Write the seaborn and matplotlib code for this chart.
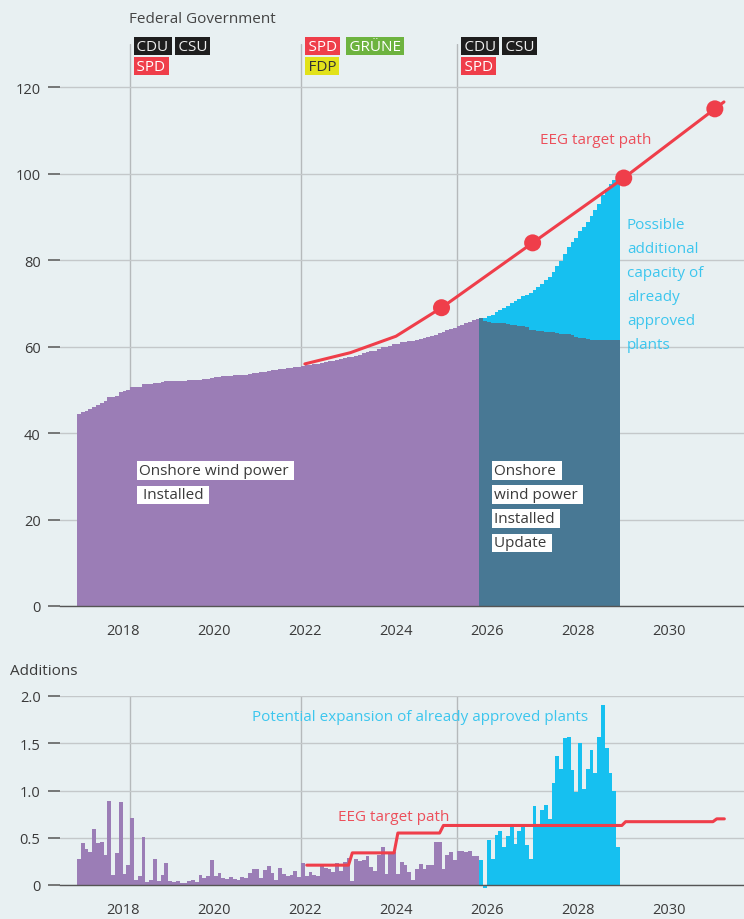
import numpy as np
import pandas as pd
import seaborn as sns
import matplotlib.pyplot as plt

# colours
BG = '#e8f0f2'
PURPLE = '#9b7db6'
DARK = '#487894'
CYAN = '#16c0f0'
RED = '#ef3e4a'
GRID = '#c4c8ca'
TXT = '#3a3a3a'

# monthly additions of onshore wind power in GW (installed), Jan 2017 - Oct 2025
add_2017 = [0.28, 0.44, 0.38, 0.35, 0.59, 0.44, 0.45, 0.32, 0.89, 0.11, 0.34, 0.88]
add_2018 = [0.12, 0.21, 0.71, 0.05, 0.10, 0.51, 0.03, 0.05, 0.28, 0.04, 0.11, 0.23]
add_2019 = [0.04, 0.03, 0.04, 0.02, 0.02, 0.04, 0.05, 0.03, 0.11, 0.07, 0.10, 0.26]
add_2020 = [0.10, 0.13, 0.07, 0.06, 0.08, 0.06, 0.05, 0.08, 0.07, 0.13, 0.17, 0.17]
add_2021 = [0.07, 0.16, 0.20, 0.13, 0.05, 0.18, 0.12, 0.09, 0.11, 0.15, 0.08, 0.23]
add_2022 = [0.09, 0.14, 0.11, 0.09, 0.22, 0.18, 0.17, 0.14, 0.23, 0.15, 0.24, 0.29]
add_2023 = [0.04, 0.27, 0.25, 0.26, 0.31, 0.19, 0.15, 0.32, 0.40, 0.12, 0.33, 0.35]
add_2024 = [0.12, 0.24, 0.21, 0.14, 0.05, 0.17, 0.22, 0.17, 0.21, 0.21, 0.46, 0.45]
add_2025 = [0.17, 0.32, 0.35, 0.26, 0.36, 0.36, 0.35, 0.36, 0.31, 0.31]

# potential expansion of already approved plants, Nov 2025 - Nov 2028
approved = [0.26, -0.03,
            0.48, 0.28, 0.53, 0.57, 0.40, 0.52, 0.61, 0.43, 0.57, 0.61, 0.42, 0.28,
            0.84, 0.63, 0.79, 0.85, 0.70, 1.08, 1.36, 1.23, 1.56, 1.57, 1.22, 0.98,
            1.50, 1.02, 1.23, 1.43, 1.18, 1.57, 1.91, 1.45, 1.18, 0.99, 0.40]

# installed capacity at the end of 2016 (GW)
start_capacity = 44.1

# installed fleet update incl. decommissioning, Nov 2025 - Nov 2028 (GW)
update = [66.6, 66.0, 65.8, 65.5, 65.5, 65.4, 65.4, 65.2, 65.1, 64.9, 64.8, 64.7,
          64.6, 63.9, 63.8, 63.6, 63.5, 63.4, 63.3, 63.3, 63.1, 63.0, 62.9, 62.9,
          62.7, 62.2, 62.1, 61.9, 61.7, 61.6, 61.6, 61.5, 61.5, 61.5, 61.5, 61.5, 61.5]

# EEG target path, cumulative (GW)
eeg_years = [2022.0, 2023.0, 2024.0, 2025.0, 2027.0, 2029.0, 2031.0, 2031.2]
eeg_gw = [56.0, 58.6, 62.4, 69.0, 84.0, 99.0, 115.0, 116.6]
eeg_dot_years = [2025.0, 2027.0, 2029.0, 2031.0]
eeg_dot_gw = [69.0, 84.0, 99.0, 115.0]

# EEG target path, monthly additions per year (GW/month); 2031 only Jan-Mar
target_years = [2022, 2023, 2024, 2025, 2026, 2027, 2028, 2029, 2030, 2031]
target_monthly = [0.21, 0.34, 0.55, 0.63, 0.63, 0.63, 0.63, 0.67, 0.67, 0.70]
target_months_last = 3

# change of federal government
gov_dates = [2018.16, 2021.92, 2025.34]
gov_parties = [[['CDU', 'CSU'], ['SPD']],
               [['SPD', 'GRÜNE'], ['FDP']],
               [['CDU', 'CSU'], ['SPD']]]
party_colors = {'CDU': ('#1e1e1e', '#eeeeee'), 'CSU': ('#1e1e1e', '#eeeeee'),
                'SPD': (RED, '#ffffff'), 'GRÜNE': ('#6db33f', '#ffffff'),
                'FDP': ('#e2e21a', '#333333')}

# derived series
installed = np.concatenate([add_2017, add_2018, add_2019, add_2020, add_2021,
                            add_2022, add_2023, add_2024, add_2025])
all_add = np.concatenate([installed, approved])
capacity = start_capacity + np.cumsum(all_add)
n_inst = len(installed)
edges = 2017 + np.arange(len(all_add) + 1) / 12

target = np.concatenate([np.repeat(target_monthly[:-1], 12),
                         np.repeat(target_monthly[-1:], target_months_last)])
target_df = pd.DataFrame({'x': target_years[0] + (np.arange(len(target)) + 0.5) / 12,
                          'gw': target})
eeg_df = pd.DataFrame({'x': eeg_years, 'gw': eeg_gw})
dots_df = pd.DataFrame({'x': eeg_dot_years, 'gw': eeg_dot_gw})

sns.set_style('whitegrid', {'axes.facecolor': BG, 'figure.facecolor': BG,
                            'grid.color': GRID})
plt.rcParams['font.family'] = ['Open Sans', 'DejaVu Sans']

W, H = 744, 920
fig = plt.figure(figsize=(W / 100, H / 100), dpi=100)
ax = fig.add_axes([60 / W, 1 - 607 / H, 684 / W, (607 - 45) / H])
ax2 = fig.add_axes([60 / W, 1 - 886 / H, 684 / W, (886 - 697) / H])

XLIM = (2016.625, 2031.64)

for a in (ax, ax2):
    a.set_xlim(*XLIM)
    a.grid(axis='x', visible=False)
    a.grid(axis='y', color=GRID, lw=1)
    for s in ('top', 'left', 'right'):
        a.spines[s].set_visible(False)
    a.spines['bottom'].set_color('#555555')
    a.spines['bottom'].set_linewidth(1)
    a.set_xticks(range(2018, 2031, 2))
    a.tick_params(axis='x', direction='out', length=8, width=1.2, color='#666666',
                  labelsize=10.5, labelcolor=TXT, pad=4)
    a.tick_params(axis='y', direction='out', length=9, width=1.1, color='#555555',
                  labelsize=10.5, labelcolor=TXT, pad=5, left=True)
    for g in gov_dates:
        a.axvline(g, color='#b5b9bb', lw=1, zorder=0.5)
    a.set_axisbelow(True)

# top chart: capacity
ax.set_ylim(0, 130)
ax.set_yticks(range(0, 121, 20))
ax.stairs(capacity[:n_inst], edges[:n_inst + 1], baseline=0, fill=True,
          color=PURPLE, lw=0, zorder=2)
ax.stairs(update, edges[n_inst:], baseline=0, fill=True, color=DARK, lw=0, zorder=2)
ax.stairs(capacity[n_inst:], edges[n_inst:], baseline=update, fill=True,
          color=CYAN, lw=0, zorder=2)
sns.lineplot(data=eeg_df, x='x', y='gw', ax=ax, color=RED, lw=2.2, zorder=4)
sns.scatterplot(data=dots_df, x='x', y='gw', ax=ax, color=RED, s=150,
                edgecolor='none', zorder=5)
ax.set_xlabel('')
ax.set_ylabel('')

# federal government badges
ax.annotate('Federal Government', xy=(gov_dates[0], 1.0445),
            xycoords=('data', 'axes fraction'), xytext=(-1, 0),
            textcoords='offset points', ha='left', va='center',
            fontsize=11, color='#444444')
for g, rows in zip(gov_dates, gov_parties):
    for r, row in enumerate(rows):
        yfrac = 0.9964 - r * 0.0356
        for i, p in enumerate(row):
            fc, tc = party_colors[p]
            ax.annotate('\u200a' + p + '\u200a', xy=(g, yfrac),
                        xycoords=('data', 'axes fraction'),
                        xytext=(4.0 + i * 29.6, 0), textcoords='offset points',
                        ha='left', va='center', fontsize=11, color=tc,
                        bbox=dict(boxstyle='square,pad=0.1', fc=fc, ec='none'))

# labels top
box = dict(boxstyle='square,pad=0.12', fc='white', ec='none')
for i, t in enumerate(['Onshore wind power ', ' Installed ']):
    ax.text(2018.36, 31.4 - i * 5.7, t, fontsize=11, color=TXT, va='center',
            ha='left', bbox=box, zorder=6)
for i, t in enumerate(['Onshore ', 'wind power ', 'Installed ', 'Update ']):
    ax.text(2026.15, 31.4 - i * 5.6, t, fontsize=11, color=TXT, va='center',
            ha='left', bbox=box, zorder=6)
for i, t in enumerate(['Possible', 'additional', 'capacity of', 'already',
                       'approved', 'plants']):
    ax.text(2029.07, 88.3 - i * 5.55, t, fontsize=11, color='#3cc6ee',
            va='center', ha='left', zorder=6)
ax.text(2027.16, 108, 'EEG target path', fontsize=11, color='#ec4f5b',
        va='center', ha='left')

# bottom chart: additions
ax2.set_ylim(0, 2.0)
ax2.set_yticks([0, 0.5, 1.0, 1.5, 2.0])
ax2.set_yticklabels(['0', '0.5', '1.0', '1.5', '2.0'])
ax2.stairs(installed, edges[:n_inst + 1], baseline=0, fill=True, color=PURPLE,
           lw=0, zorder=2)
ax2.stairs(approved, edges[n_inst:], baseline=0, fill=True, color=CYAN, lw=0,
           zorder=2, clip_on=False)
sns.lineplot(data=target_df, x='x', y='gw', ax=ax2, color=RED, lw=2.2, zorder=4)
ax2.set_xlabel('')
ax2.set_ylabel('')
ax2.text(2020.84, 1.78, 'Potential expansion of already approved plants',
         fontsize=11, color='#3cc6ee', va='center', ha='left')
ax2.text(2022.72, 0.73, 'EEG target path', fontsize=11, color='#ec4f5b',
         va='center', ha='left')

fig.text(10 / W, 1 - 672 / H, 'Additions', fontsize=11, color=TXT, va='center',
         ha='left')

fig.savefig('out.png', dpi=100, facecolor=BG)
